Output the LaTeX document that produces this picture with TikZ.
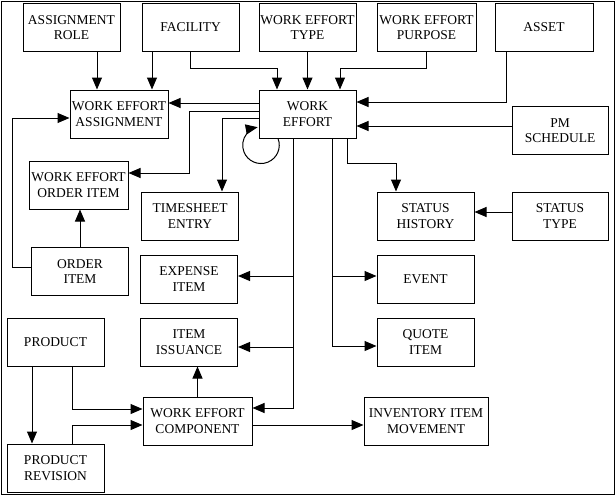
\documentclass[tikz,border=0pt]{standalone}
\usepackage{fontspec}
\setmainfont{Liberation Serif}
\usetikzlibrary{arrows.meta}
\usetikzlibrary{calc}

\begin{document}
\begin{tikzpicture}[x=1pt, y=-1pt,
    ent/.style={draw, line width=1pt, inner sep=0pt, minimum width=97pt,
      minimum height=48pt, align=center, font=\fontsize{13.5}{15.7}\selectfont},
    arr/.style={line width=1pt, -{Triangle[length=12pt,width=10pt]}}
    ]

    \useasboundingbox (0,0) rectangle (615,496);
    \draw[line width=1pt] (1,1) rectangle (614,494);

    \node[ent] (role) at (71.5,27.5) {ASSIGNMENT\\ROLE};
    \node[ent] (facility) at (190.5,27.5) {FACILITY};
    \node[ent] (wetype) at (307.5,27.5) {WORK EFFORT\\TYPE};
    \node[ent, minimum width=99pt] (wepurpose) at (426.5,27.5) {WORK EFFORT\\PURPOSE};
    \node[ent, minimum width=98pt] (asset) at (544,27.5) {ASSET};

    \node[ent, minimum width=98pt] (weassign) at (119,114) {WORK EFFORT\\ASSIGNMENT};
    \node[ent] (we) at (307.5,114) {WORK\\EFFORT};
    \node[ent, minimum width=96pt] (pm) at (560,130.5) {PM\\SCHEDULE};

    \node[ent, minimum width=99pt] (weorder) at (78.5,185) {WORK EFFORT\\ORDER ITEM};
    \node[ent] (timesheet) at (190,216) {TIMESHEET\\ENTRY};
    \node[ent] (statushist) at (425.5,216) {STATUS\\HISTORY};
    \node[ent, minimum width=96pt] (statustype) at (560,216) {STATUS\\TYPE};

    \node[ent] (orderitem) at (80,271.5) {ORDER\\ITEM};
    \node[ent] (expense) at (189,279) {EXPENSE\\ITEM};
    \node[ent] (event) at (425.5,279) {EVENT};

    \node[ent] (product) at (55.5,342) {PRODUCT};
    \node[ent] (issuance) at (189,342) {ITEM\\ISSUANCE};
    \node[ent] (quote) at (425.5,342) {QUOTE\\ITEM};

    \node[ent, minimum width=109pt] (wecomp) at (197.5,421) {WORK EFFORT\\COMPONENT};
    \node[ent, minimum width=124pt] (invmove) at (426,421) {INVENTORY ITEM\\MOVEMENT};
    \node[ent] (prodrev) at (55.5,468) {PRODUCT\\REVISION};

    \draw[arr] ([xshift=25.5pt]role.south) -- ([xshift=25.5pt]role.south |- weassign.north);
    \draw[arr] ([xshift=-38.5pt]facility.south) -- ([xshift=-38.5pt]facility.south |- weassign.north);
    \draw[arr] (facility.south) -- ++(0,16) -| ([xshift=-30.5pt]we.north);
    \draw[arr] (wetype.south) -- (we.north);
    \draw[arr] (wepurpose.south) -- ++(0,16) -| ([xshift=32.5pt]we.north);
    \draw[arr] ([xshift=-38pt]asset.south) |- ([yshift=12pt]we.east);
    \draw[arr] ([yshift=-12pt]we.east -| pm.west) -- ([yshift=-12pt]we.east);

    \draw[arr] ([yshift=11pt]we.west) -- ([yshift=11pt]we.west -| weassign.east);
    \draw[arr] ([yshift=3pt]we.west) -- ++(-69,0) |- ([yshift=12pt]weorder.east);
    \draw[arr] ([yshift=-4pt]we.west) -| ([xshift=32pt]timesheet.north);
    \draw[arr] ([xshift=19.5pt]we.south west) arc[start angle=-21.5, end angle=259.5, radius=18.3];

    \draw[arr] ([yshift=4.5pt]orderitem.west) -- ++(-19,0) |- ([yshift=-4pt]weassign.west);
    \draw[arr] (orderitem.north) -- (orderitem.north |- weorder.south);

    \coordinate (trunkL) at ([xshift=-14.5pt]we.south);
    \coordinate (trunkR) at ([xshift=24.5pt]we.south);
    \draw[arr] (trunkL) |- ([yshift=13pt]wecomp.east);
    \draw[arr] ($(trunkL |- expense.east)+(0,-3)$) -- ([yshift=3pt]expense.east);
    \draw[arr] ($(trunkL |- issuance.east)+(0,5)$) -- ([yshift=-5pt]issuance.east);
    \draw[arr] (trunkR) |- ([yshift=-4pt]quote.west);
    \draw[arr] ($(trunkR |- event.west)+(0,-3)$) -- ([yshift=3pt]event.west);

    \draw[arr] ([xshift=39.5pt]we.south) -- ++(0,25) -| ([xshift=-29.5pt]statushist.north);
    \draw[arr] ([yshift=4pt]statustype.west) -- ([yshift=4pt]statushist.east);

    \draw[arr] ([xshift=-23.5pt]product.south) -- ([xshift=-23.5pt]prodrev.north);
    \draw[arr] ([xshift=16.5pt]product.south) |- ([yshift=12pt]wecomp.west);
    \draw[arr] ([xshift=16.5pt]prodrev.north) |- ([yshift=-4pt]wecomp.west);
    \draw[arr] (wecomp.north) -- (wecomp.north |- issuance.south);
    \draw[arr] ([yshift=-4pt]wecomp.east) -- ([yshift=-4pt]wecomp.east -| invmove.west);

\end{tikzpicture}
\end{document}
